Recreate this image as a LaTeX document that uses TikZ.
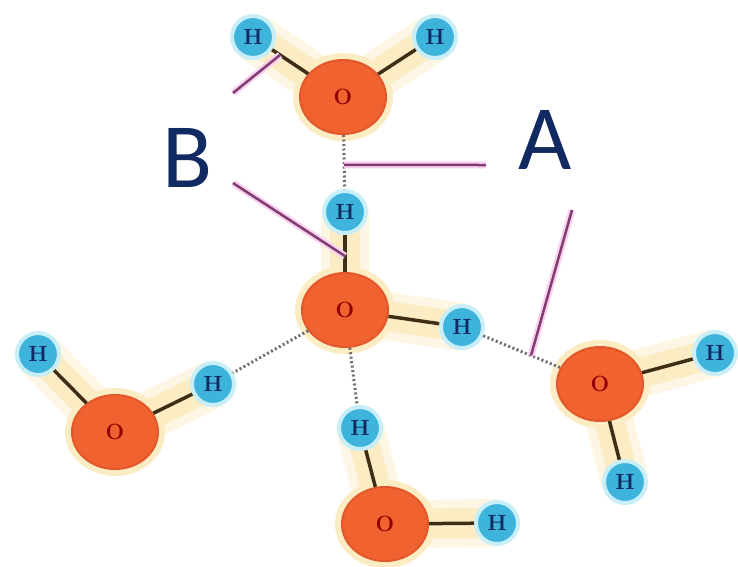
\documentclass[tikz,border=0pt]{standalone}
\usepackage{fontspec}
\newfontfamily\labelfont{Carlito}
\usetikzlibrary{shapes.geometric, calc, backgrounds}
\definecolor{oxyred}{RGB}{240,98,48}
\definecolor{oxyedge}{RGB}{226,88,42}
\definecolor{hydblue}{RGB}{62,180,220}
\definecolor{hydglow}{RGB}{200,238,248}
\definecolor{haze}{RGB}{252,236,196}
\definecolor{bondbrown}{RGB}{62,46,22}
\definecolor{hbondgray}{RGB}{110,110,110}
\definecolor{pointer}{RGB}{128,62,112}
\definecolor{pointerglow}{RGB}{250,210,240}
\definecolor{navy}{RGB}{18,42,98}
\tikzstyle{oxy}=[ellipse, fill=oxyred, draw=oxyedge, line width=2pt, minimum width=86pt, minimum height=74pt, inner sep=0pt, text=red!55!black, font=\bfseries\fontsize{22}{22}\selectfont]
\tikzstyle{hyd}=[circle, fill=hydblue, draw=hydglow, line width=4pt, minimum size=42pt, inner sep=0pt, text=navy, font=\bfseries\fontsize{22}{22}\selectfont]
\tikzstyle{bond}=[line width=3.5pt, draw=bondbrown]
\tikzstyle{hbond}=[line width=3pt, draw=hbondgray, dash pattern=on 2pt off 2.5pt]
\tikzstyle{glow}=[line width=30pt, draw=haze, line cap=round, line join=round, preaction={draw=haze!45, line width=48pt}]
\tikzstyle{pointer}=[line width=2.5pt, draw=pointer, preaction={draw=pointerglow, line width=7pt}]
\tikzstyle{tag}=[text=navy, font=\labelfont\fontsize{92}{92}\selectfont]
\newcommand{\oxy}{\node[oxy]}
\newcommand{\hyd}{\node[hyd]}

\begin{document}
\begin{tikzpicture}[x=1pt, y=-1pt]
    \useasboundingbox (0,0) rectangle (738,566);
    % molecules
    \oxy (O1) at (343,97) {O};
    \hyd (H1a) at (253,37) {H};
    \hyd (H1b) at (435,37) {H};
    \oxy (O2) at (345,310) {O};
    \hyd (H2a) at (345,212) {H};
    \hyd (H2b) at (462,327) {H};
    \oxy (O3) at (115,432) {O};
    \hyd (H3a) at (38,354) {H};
    \hyd (H3b) at (213,384) {H};
    \oxy (O4) at (385,524) {O};
    \hyd (H4a) at (360,428) {H};
    \hyd (H4b) at (497,523) {H};
    \oxy (O5) at (600,384) {O};
    \hyd (H5a) at (715,353) {H};
    \hyd (H5b) at (625,482) {H};
    % yellow haze behind each molecule
    \begin{pgfonlayer}{background}
        \path[glow] (H1a.center) -- (O1.center) -- (H1b.center);
        \path[glow] (H2a.center) -- (O2.center) -- (H2b.center);
        \path[glow] (H3a.center) -- (O3.center) -- (H3b.center);
        \path[glow] (H4a.center) -- (O4.center) -- (H4b.center);
        \path[glow] (H5a.center) -- (O5.center) -- (H5b.center);
        \foreach \o in {O1,O2,O3,O4,O5}
            \fill[haze] (\o) ellipse (50pt and 44pt);
    \end{pgfonlayer}
    % covalent bonds
    \path[bond]
        (O1) edge (H1a) (O1) edge (H1b)
        (O2) edge (H2a) (O2) edge (H2b)
        (O3) edge (H3a) (O3) edge (H3b)
        (O4) edge (H4a) (O4) edge (H4b)
        (O5) edge (H5a) (O5) edge (H5b)
    ;
    % hydrogen bonds
    \path[hbond]
        (O1) edge (H2a)
        (O2) edge (H3b)
        (O2) edge (H4a)
        (H2b) edge (O5)
    ;
    % labels
    \node[tag] (B) at (188,158) {B};
    \node[tag] (A) at (545,140) {A};
    \coordinate (b1) at (233,93);
    \coordinate (b2) at (233,183);
    \coordinate (a1) at (486,165);
    \coordinate (a2) at (572,210);
    \draw[pointer] (b1) -- ($(H1a)!0.3!(O1)$);
    \draw[pointer] (b2) -- ($(H2a)!0.45!(O2)$);
    \draw[pointer] (a1) -- ($(O1)!0.59!(H2a)$ |- a1);
    \draw[pointer] (a2) -- ($(H2b)!0.5!(O5)$);
\end{tikzpicture}
\end{document}
